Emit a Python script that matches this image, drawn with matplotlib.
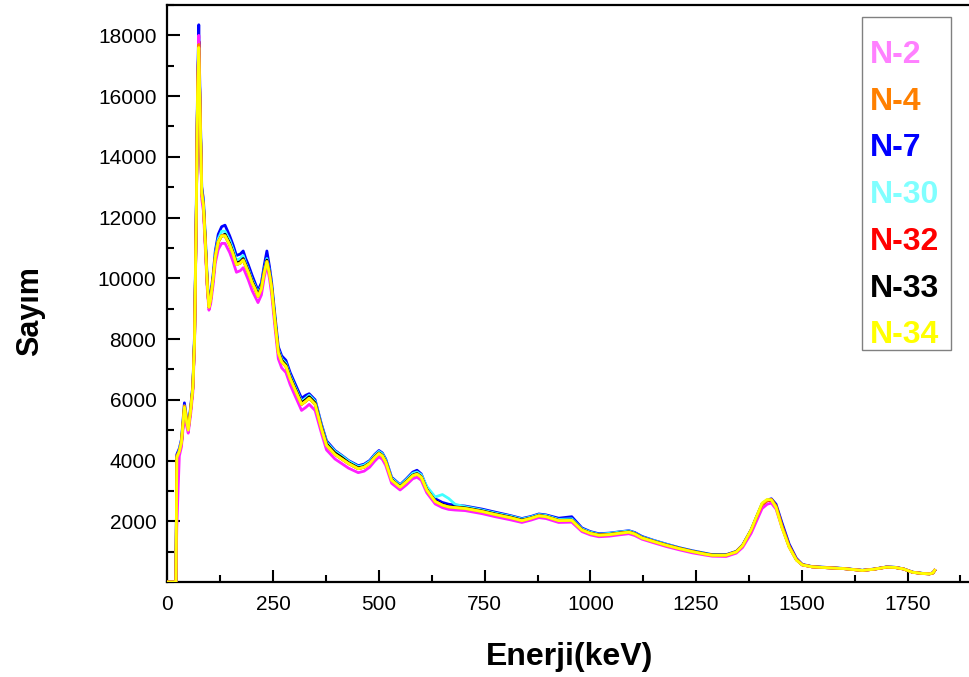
import matplotlib
matplotlib.use("Agg")
import matplotlib.pyplot as plt
from matplotlib.patches import Rectangle
from matplotlib.ticker import MultipleLocator, FixedLocator

plt.rcParams['font.family'] = ['Liberation Sans', 'DejaVu Sans']

# Energy grid (keV) shared by all spectra
energy = [0, 20, 22, 28, 33, 40, 45, 49, 55, 60, 64, 68, 71, 74, 77, 81, 85, 90, 94, 98,
          102, 108, 113, 120, 128, 136, 147, 155, 163, 172, 179, 185, 191, 200, 207, 214,
          222, 229, 235, 241, 246, 254, 262, 270, 280, 290, 301, 317, 327, 335, 349, 364,
          376, 396, 412, 428, 451, 465, 478, 490, 500, 508, 516, 530, 550, 565, 580, 590,
          600, 613, 633, 650, 665, 680, 704, 744, 775, 810, 838, 860, 878, 895, 925, 956,
          980, 1000, 1020, 1045, 1067, 1091, 1105, 1122, 1150, 1179, 1210, 1241, 1270,
          1288, 1321, 1345, 1360, 1380, 1392, 1406, 1418, 1428, 1439, 1453, 1470, 1487,
          1501, 1524, 1560, 1600, 1643, 1670, 1700, 1720, 1740, 1762, 1785, 1802, 1810, 1814]

n2 = [0, 0, 1800, 4150, 4450, 5550, 5150, 4900, 5550, 6250, 7800, 11800, 15800, 18000, 15400,
      12600, 12200, 10800, 9650, 8950, 9150, 9800, 10500, 10950, 11150, 11150, 10850, 10550,
      10200, 10250, 10350, 10150, 9950, 9600, 9400, 9200, 9450, 10050, 10450, 10000, 9500,
      8400, 7350, 7050, 6900, 6500, 6150, 5650, 5750, 5850, 5650, 4900, 4350, 4050, 3900,
      3750, 3600, 3650, 3780, 3980, 4120, 4040, 3840, 3250, 3030, 3200, 3400, 3450, 3350,
      2940, 2570, 2450, 2390, 2370, 2350, 2250, 2150, 2050, 1960, 2040, 2120, 2090, 1960,
      1970, 1660, 1550, 1490, 1510, 1550, 1590, 1530, 1410, 1290, 1170, 1060, 960, 890, 850,
      840, 950, 1140, 1600, 1980, 2420, 2560, 2600, 2400, 1800, 1150, 730, 560, 500, 470,
      440, 380, 420, 490, 480, 430, 320, 280, 270, 300, 390]

n4 = [0, 0, 4150, 4300, 4600, 5800, 5350, 5050, 5700, 6400, 8000, 12000, 15900, 17700, 15500,
      12800, 12400, 11000, 9800, 9050, 9300, 10000, 10700, 11200, 11400, 11400, 11100, 10800,
      10450, 10500, 10600, 10400, 10200, 9850, 9650, 9400, 9650, 10200, 10550, 10150, 9700,
      8600, 7550, 7250, 7100, 6700, 6350, 5850, 5950, 6050, 5850, 5050, 4500, 4200, 4050,
      3900, 3730, 3780, 3900, 4100, 4230, 4150, 3950, 3350, 3120, 3300, 3500, 3550, 3450,
      3030, 2650, 2530, 2470, 2450, 2420, 2320, 2220, 2120, 2020, 2100, 2180, 2150, 2020,
      2030, 1710, 1600, 1540, 1560, 1600, 1640, 1580, 1450, 1330, 1210, 1100, 1000, 920, 880,
      880, 990, 1200, 1700, 2100, 2550, 2680, 2720, 2500, 1850, 1180, 740, 570, 500, 470,
      440, 380, 420, 485, 475, 430, 320, 280, 265, 290, 370]

n7 = [0, 0, 4200, 4400, 4700, 5900, 5400, 5100, 5800, 6500, 8200, 12300, 16300, 18350, 15900,
      13000, 12600, 11200, 9950, 9200, 9450, 10150, 10900, 11450, 11700, 11750, 11400, 11100,
      10750, 10800, 10900, 10650, 10450, 10100, 9850, 9600, 9850, 10450, 10900, 10400, 9900,
      8800, 7750, 7450, 7300, 6900, 6550, 6050, 6150, 6200, 6000, 5200, 4650, 4330, 4170,
      4000, 3830, 3880, 4000, 4200, 4330, 4250, 4050, 3450, 3200, 3400, 3620, 3680, 3560,
      3120, 2740, 2620, 2560, 2530, 2500, 2400, 2300, 2190, 2090, 2160, 2240, 2210, 2100,
      2150, 1780, 1660, 1590, 1610, 1650, 1690, 1630, 1500, 1370, 1250, 1130, 1030, 950, 900,
      900, 1010, 1220, 1720, 2120, 2580, 2700, 2740, 2560, 1950, 1250, 780, 580, 510, 480,
      445, 385, 425, 495, 485, 435, 325, 285, 270, 300, 380]

n30 = [0, 0, 4100, 4350, 4650, 5800, 5350, 5050, 5750, 6450, 8100, 12100, 16100, 17900, 15600,
       12900, 12500, 11100, 9850, 9100, 9350, 10050, 10800, 11300, 11550, 11550, 11250, 10950,
       10600, 10650, 10750, 10500, 10300, 9950, 9750, 9500, 9750, 10300, 10650, 10250, 9800,
       8700, 7650, 7350, 7200, 6800, 6450, 5950, 6050, 6150, 5950, 5150, 4600, 4300, 4150,
       3980, 3800, 3850, 3970, 4170, 4300, 4220, 4020, 3420, 3180, 3370, 3580, 3620, 3530,
       3150, 2800, 2880, 2750, 2560, 2480, 2370, 2270, 2170, 2070, 2140, 2220, 2190, 2060,
       2080, 1750, 1640, 1570, 1600, 1640, 1680, 1610, 1480, 1360, 1240, 1120, 1020, 940, 900,
       890, 1000, 1210, 1700, 2100, 2560, 2690, 2700, 2500, 1850, 1180, 740, 570, 505, 475,
       445, 385, 425, 495, 485, 435, 325, 285, 270, 300, 380]

n32 = [0, 0, 4050, 4300, 4600, 5750, 5300, 5000, 5700, 6400, 8000, 12000, 16000, 17800, 15500,
       12800, 12400, 11000, 9800, 9050, 9300, 10000, 10700, 11200, 11400, 11400, 11100, 10800,
       10450, 10500, 10600, 10400, 10200, 9850, 9650, 9400, 9650, 10200, 10550, 10150, 9700,
       8600, 7550, 7250, 7100, 6700, 6350, 5850, 5950, 6050, 5850, 5050, 4500, 4200, 4050,
       3900, 3730, 3780, 3900, 4100, 4230, 4150, 3950, 3350, 3120, 3300, 3500, 3550, 3450,
       3030, 2650, 2530, 2470, 2450, 2420, 2320, 2220, 2120, 2020, 2100, 2180, 2150, 2020,
       2030, 1710, 1600, 1540, 1560, 1600, 1640, 1580, 1450, 1330, 1210, 1100, 1000, 920, 880,
       880, 990, 1200, 1690, 2090, 2550, 2680, 2700, 2490, 1830, 1170, 735, 565, 500, 470,
       440, 380, 420, 490, 480, 430, 320, 280, 270, 300, 380]

n33 = [0, 0, 4100, 4300, 4550, 5700, 5300, 5000, 5700, 6400, 8000, 12000, 16000, 17800, 15500,
       12800, 12400, 11000, 9800, 9050, 9300, 10000, 10700, 11200, 11400, 11450, 11150, 10850,
       10500, 10550, 10650, 10450, 10250, 9900, 9700, 9450, 9700, 10250, 10600, 10200, 9750,
       8650, 7600, 7300, 7150, 6750, 6400, 5900, 6000, 6100, 5900, 5100, 4550, 4250, 4100,
       3930, 3760, 3800, 3920, 4120, 4250, 4170, 3970, 3370, 3140, 3320, 3520, 3570, 3470,
       3050, 2670, 2550, 2490, 2470, 2440, 2340, 2240, 2140, 2040, 2110, 2190, 2160, 2030,
       2040, 1720, 1610, 1550, 1570, 1610, 1650, 1590, 1460, 1340, 1220, 1110, 1010, 930, 890,
       885, 995, 1200, 1700, 2100, 2550, 2680, 2700, 2490, 1830, 1170, 735, 565, 500, 470,
       440, 380, 420, 490, 480, 430, 320, 280, 270, 300, 380]

n34 = [0, 0, 4100, 4300, 4600, 5750, 5300, 5000, 5700, 6400, 8000, 12000, 16000, 17600, 15500,
       12800, 12400, 11000, 9800, 9050, 9300, 10000, 10700, 11200, 11400, 11400, 11100, 10800,
       10450, 10500, 10600, 10400, 10200, 9850, 9650, 9400, 9650, 10200, 10550, 10150, 9700,
       8600, 7550, 7250, 7100, 6700, 6350, 5850, 5950, 6050, 5850, 5050, 4500, 4200, 4050,
       3900, 3730, 3780, 3900, 4100, 4230, 4150, 3950, 3350, 3120, 3300, 3500, 3550, 3450,
       3030, 2650, 2530, 2470, 2450, 2420, 2320, 2220, 2120, 2020, 2100, 2180, 2150, 2020,
       2030, 1710, 1600, 1540, 1560, 1600, 1640, 1580, 1450, 1330, 1210, 1100, 1000, 920, 880,
       880, 990, 1200, 1720, 2130, 2600, 2720, 2700, 2450, 1780, 1140, 720, 560, 500, 470,
       440, 380, 420, 490, 480, 430, 320, 280, 270, 300, 390]

labels = ["N-2", "N-4", "N-7", "N-30", "N-32", "N-33", "N-34"]
series = [n2, n4, n7, n30, n32, n33, n34]
line_colors = ["#FF20FF", "#FF8000", "#0000FF", "#40FFFF", "#FF0000", "#000000", "#FFFF00"]
text_colors = ["#FF80FF", "#FF8000", "#0000FF", "#80FFFF", "#FF0000", "#000000", "#FFFF00"]
# stacking order of the traces (back to front)
draw_order = [2, 3, 5, 4, 0, 1, 6]

fig = plt.figure(figsize=(9.70, 6.77), dpi=100)
ax = fig.add_axes([167.5 / 970, 95 / 677, 803.5 / 970, 577 / 677])

for z, i in enumerate(draw_order):
    ax.plot(energy, series[i], color=line_colors[i], lw=2.0, zorder=2 + z,
            solid_joinstyle='round', label=labels[i])

ax.set_xlim(0, 1900)
ax.set_ylim(0, 19000)
ax.xaxis.set_major_locator(MultipleLocator(250))
ax.xaxis.set_minor_locator(MultipleLocator(125))
ax.yaxis.set_major_locator(FixedLocator(list(range(2000, 18001, 2000))))
ax.yaxis.set_minor_locator(MultipleLocator(1000))

ax.tick_params(which='both', direction='in', width=1.5, labelsize=15, colors='black')
ax.tick_params(which='major', length=9)
ax.tick_params(which='minor', length=5)
ax.tick_params(axis='y', pad=8)
ax.tick_params(axis='x', pad=9)
for s in ax.spines.values():
    s.set_linewidth(1.6)

ax.set_xlabel("Enerji(keV)", fontsize=23, fontweight='bold')
ax.set_ylabel("Sayım", fontsize=22, fontweight='bold')
ax.xaxis.set_label_coords(0.50, -0.104)
ax.yaxis.set_label_coords(-0.152, 0.47)

# Key box: sample names written in their trace colours inside a grey frame
key_left, key_right, key_top, key_bottom = 0.8643, 0.9751, 0.9792, 0.4021
ax.add_patch(Rectangle((key_left, key_bottom), key_right - key_left, key_top - key_bottom,
                       transform=ax.transAxes, facecolor='white', edgecolor='#808080',
                       linewidth=1.0, zorder=20))
row_step = 46.7 / 577
first_baseline = (582 - 63) / 577
for k, (name, col) in enumerate(zip(labels, text_colors)):
    ax.text(0.8743, first_baseline - k * row_step, name, transform=ax.transAxes,
            color=col, fontsize=23, fontweight='bold', ha='left', va='baseline',
            zorder=21)

fig.savefig("out.png", dpi=100)
